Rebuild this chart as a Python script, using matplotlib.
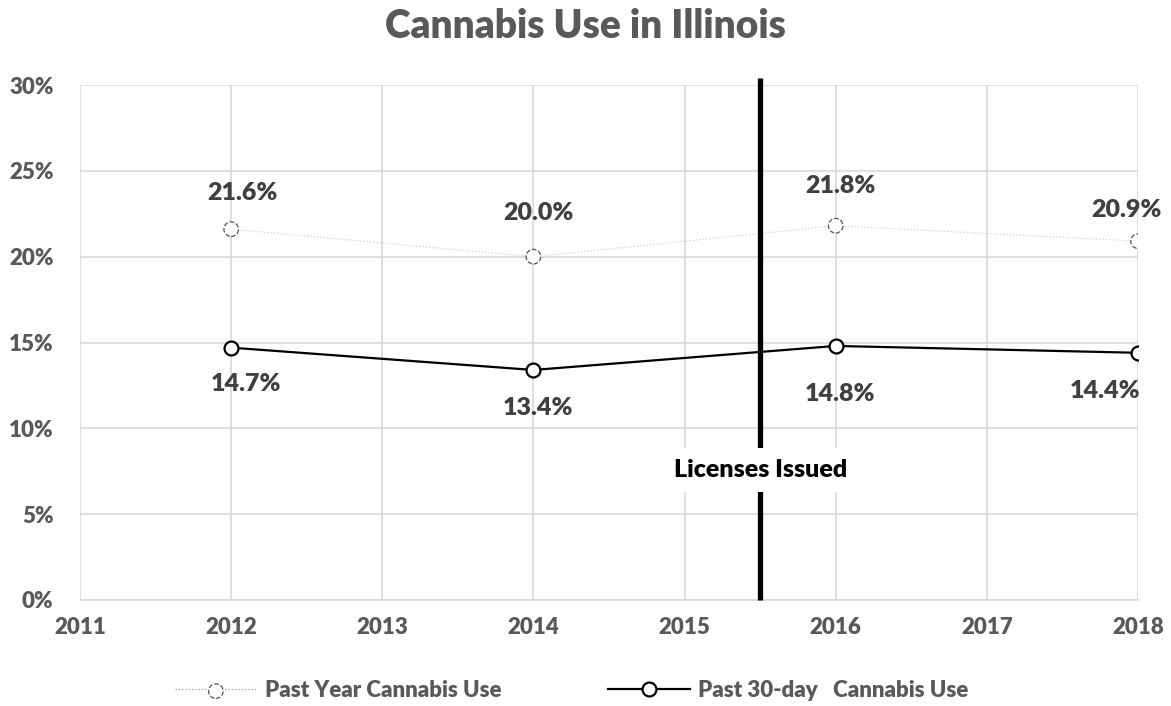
import matplotlib.pyplot as plt
from matplotlib.legend_handler import HandlerTuple
from matplotlib.lines import Line2D

years = [2012, 2014, 2016, 2018]
past_year = [21.6, 20.0, 21.8, 20.9]
past_30day = [14.7, 13.4, 14.8, 14.4]
x_ticks = [2011, 2012, 2013, 2014, 2015, 2016, 2017, 2018]
y_ticks = [0, 5, 10, 15, 20, 25, 30]
license_year = 2015.5
license_text = "Licenses Issued"

plt.rcParams['font.family'] = ['Lato', 'DejaVu Sans']
grey = '#595959'
wt = 800

fig = plt.figure(figsize=(11.71, 7.06), dpi=100)
ax = fig.add_axes([80 / 1171, 106 / 706, 1058 / 1171, 515 / 706])

# past year: faint dotted line, dashed circle markers
ax.plot(years, past_year, color='#d0d0d0', lw=0.9, ls=':', zorder=3)
py_pts = ax.scatter(years, past_year, s=110, facecolors='white',
                    edgecolors='#555555', linewidths=0.9, linestyles='--', zorder=4)

# past 30-day: solid black with open circles
ax.plot(years, past_30day, color='black', lw=1.6, marker='o', ms=10,
        mfc='white', mec='black', mew=1.6, zorder=5)

py_off = [(11, 36), (5, 44), (5, 40), (-12, 31)]
d30_off = [(15, -36), (5, -38), (4, -48), (-33, -38)]
for x, v, off in zip(years, past_year, py_off):
    ax.annotate(f"{v:.1f}%", (x, v), xytext=off, textcoords='offset pixels',
                ha='center', va='center', fontsize=18, fontweight=wt,
                color='#404040', zorder=6, annotation_clip=False)
for x, v, off in zip(years, past_30day, d30_off):
    ax.annotate(f"{v:.1f}%", (x, v), xytext=off, textcoords='offset pixels',
                ha='center', va='center', fontsize=18, fontweight=wt,
                color='#404040', zorder=6, annotation_clip=False)

# licence marker line
ax.plot([license_year, license_year], [0, 30.4], color='black', lw=3.8,
        solid_capstyle='butt', clip_on=False, zorder=7)
ax.text(license_year, 7.6, license_text, ha='center', va='center',
        fontsize=18, fontweight=wt, color='black', zorder=8,
        bbox=dict(facecolor='white', edgecolor='none', pad=8))

ax.set_xlim(2011, 2018)
ax.set_ylim(0, 30)
ax.set_xticks(x_ticks)
ax.set_yticks(y_ticks)
ax.set_yticklabels([f"{t}%" for t in y_ticks])
ax.grid(True, color='#d9d9d9', lw=1.2)
ax.set_axisbelow(True)
for s in ax.spines.values():
    s.set_visible(False)
ax.spines['bottom'].set_visible(True)
ax.spines['bottom'].set_color('#d9d9d9')
ax.spines['bottom'].set_linewidth(1.2)
ax.tick_params(length=0, labelsize=16, labelcolor=grey, pad=12)
for lbl in ax.get_xticklabels() + ax.get_yticklabels():
    lbl.set_fontweight(wt)
ax.tick_params(axis='y', pad=19)

fig.text(0.5, 0.962, "Cannabis Use in Illinois", ha='center', va='center',
         fontsize=28, fontweight=wt, color=grey)

h_py_line = Line2D([], [], color='#999999', lw=0.9, ls=':')
h_d30 = Line2D([], [], color='black', lw=1.6, marker='o', ms=10,
               mfc='white', mec='black', mew=1.6)
leg = fig.legend([(h_py_line, py_pts), h_d30],
                 ["Past Year Cannabis Use", "Past 30-day   Cannabis Use"],
                 handler_map={tuple: HandlerTuple(ndivide=1, pad=0)},
                 loc='center', bbox_to_anchor=(0.488, 0.022), ncol=2, frameon=False,
                 handlelength=3.7, columnspacing=4.8, handletextpad=0.35,
                 prop={'size': 16, 'weight': wt})
for t in leg.get_texts():
    t.set_color(grey)

fig.savefig('out.png', dpi=100)
